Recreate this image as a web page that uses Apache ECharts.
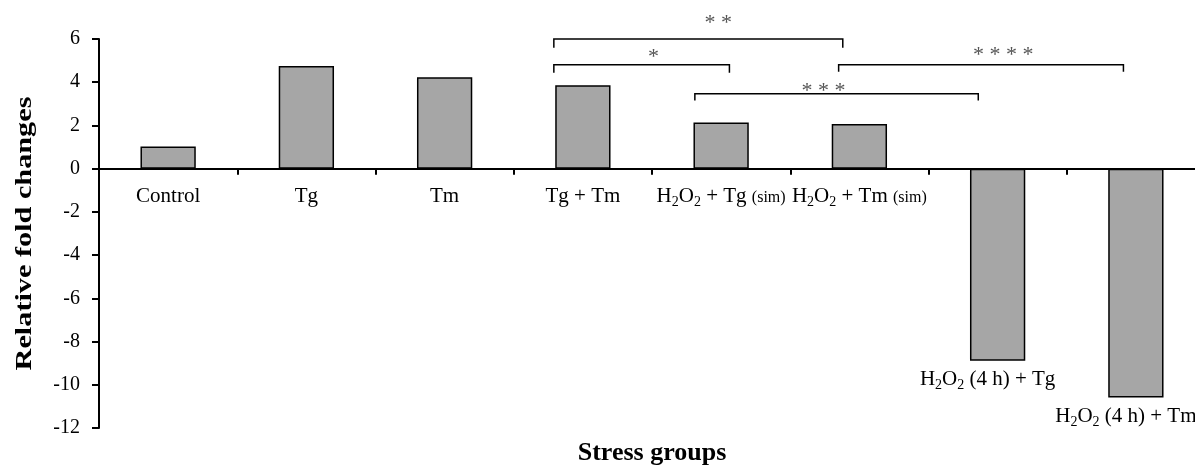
<!DOCTYPE html>
<html>
<head>
<meta charset="utf-8">
<script src="https://cdn.jsdelivr.net/npm/echarts@6/dist/echarts.min.js"></script>
<style>
html,body{margin:0;padding:0;background:#fff;}
#chart{width:1195px;height:468px;}
</style>
</head>
<body>
<div id="chart"></div>
<script>
// ---- data ----
const categories = ['Control', 'Tg', 'Tm', 'Tg + Tm', 'H2O2 + Tg (sim)', 'H2O2 + Tm (sim)', 'H2O2 (4 h) + Tg', 'H2O2 (4 h) + Tm'];
const foldChanges = [1.03, 4.75, 4.23, 3.86, 2.14, 2.07, -8.89, -10.59];
const labelBelowBar = [6, 7];           // category indices whose label sits under the bar
const yMin = -12, yMax = 6, yStep = 2;
const xAxisTitle = 'Stress groups';
const yAxisTitle = 'Relative fold changes';
// significance brackets (x in category units: category i spans i..i+1)
const bracketStart = [3.29, 3.29, 4.31, 5.35];
const bracketEnd   = [5.38, 4.56, 6.36, 7.41];
const bracketLevel = [6.00, 4.81, 3.47, 4.81];
const bracketFoot  = [5.60, 4.44, 3.15, 4.49];
const sigLabels = ['* *', '*', '* * *', '* * * *'];
const sigX = [4.48, 4.01, 5.24, 6.54];
const sigY = [6.94, 5.37, 3.80, 5.46];

const FONT = 'Liberation Serif';

function richName(name) {
  return name
    .replace(/H2O2/g, 'H{s|2}O{s|2}')
    .replace(/\(sim\)/g, '{m|(sim)}');
}
const richStyles = {
  s: { fontFamily: FONT, fontSize: 14, color: '#000', verticalAlign: 'bottom', padding: [0, 0, -3, 0] },
  m: { fontFamily: FONT, fontSize: 16, color: '#000', verticalAlign: 'bottom', padding: [0, 0, 1, 0] }
};

const barData = foldChanges.map((v, i) => {
  const item = { value: v };
  if (labelBelowBar.includes(i)) {
    item.label = {
      show: true, position: 'bottom', distance: 8, offset: [-10, 0],
      formatter: () => richName(categories[i]),
      fontFamily: FONT, fontSize: 21, color: '#000', rich: richStyles
    };
  }
  return item;
});

const bracketData = bracketStart.map((s, i) => [s, bracketEnd[i], bracketLevel[i], bracketFoot[i]]);
const sigData = sigLabels.map((t, i) => [sigX[i], sigY[i], t]);

// layout
const G = { left: 99, right: -10, top: 39, bottom: 40 };
const plotH = 468 - G.top - G.bottom;
const zeroY = G.top + plotH * (yMax - 0) / (yMax - yMin);

const chart = echarts.init(document.getElementById('chart'));
chart.setOption({
  animation: false,
  backgroundColor: '#fff',
  grid: [
    { left: G.left, right: G.right, top: G.top, bottom: G.bottom, containLabel: false, outerBoundsMode: 'none' },
    { left: G.left, right: G.right, top: G.top, height: zeroY - G.top, containLabel: false, outerBoundsMode: 'none' }
  ],
  xAxis: [{
    type: 'category', gridIndex: 0, data: categories,
    axisLine: { show: false }, axisTick: { show: false }, axisLabel: { show: false }, splitLine: { show: false }
  }, {
    type: 'value', gridIndex: 0, min: 0, max: categories.length, show: false
  }, {
    type: 'category', gridIndex: 1, data: categories, position: 'bottom',
    axisLine: { show: true, onZero: false, lineStyle: { color: '#000', width: 2 } },
    axisTick: { show: true, length: 6, lineStyle: { color: '#000', width: 2 } },
    axisLabel: {
      margin: 17, fontFamily: FONT, fontSize: 21, color: '#000', interval: 0,
      formatter: (v, i) => labelBelowBar.includes(i) ? '' : richName(v),
      rich: richStyles
    },
    splitLine: { show: false }
  }],
  yAxis: [{
    type: 'value', gridIndex: 0,
    min: yMin, max: yMax, interval: yStep,
    axisLine: { show: true, onZero: false, lineStyle: { color: '#000', width: 2 } },
    axisTick: { show: true, length: 7, lineStyle: { color: '#000', width: 2 } },
    axisLabel: { margin: 19, fontFamily: FONT, fontSize: 20, color: '#000', showMinLabel: true, showMaxLabel: true },
    splitLine: { show: false }
  }, {
    type: 'value', gridIndex: 1, min: 0, max: yMax, show: false
  }],
  graphic: [{
    type: 'text', x: 25, y: G.top + plotH / 2, rotation: Math.PI / 2, scaleX: 1.26,
    style: { text: yAxisTitle, font: 'bold 24px "Liberation Serif"', fill: '#000', align: 'center', verticalAlign: 'middle' }
  }, {
    type: 'text', x: G.left + (1195 - G.left - G.right) / 2, y: 453,
    style: { text: xAxisTitle, font: 'bold 26px "Liberation Serif"', fill: '#000', align: 'center', verticalAlign: 'middle' }
  }],
  series: [{
    type: 'bar',
    xAxisIndex: 0, yAxisIndex: 0,
    data: barData,
    barWidth: '40%',
    itemStyle: { color: '#a6a6a6', borderColor: '#000', borderWidth: 1.5 },
    label: { show: false }
  }, {
    type: 'custom',
    xAxisIndex: 1, yAxisIndex: 0,
    clip: false,
    data: bracketData,
    renderItem: (params, api) => {
      const x1 = api.value(0), x2 = api.value(1), yt = api.value(2), yf = api.value(3);
      return {
        type: 'polyline',
        shape: { points: [api.coord([x1, yf]), api.coord([x1, yt]), api.coord([x2, yt]), api.coord([x2, yf])] },
        style: { stroke: '#000', lineWidth: 1.5, fill: null }
      };
    }
  }, {
    type: 'custom',
    xAxisIndex: 1, yAxisIndex: 0,
    clip: false,
    data: sigData,
    renderItem: (params, api) => {
      const p = api.coord([api.value(0), api.value(1)]);
      return {
        type: 'text',
        x: p[0], y: p[1] + 5,
        style: {
          text: sigLabels[params.dataIndex],
          fill: '#555', font: '22px "Liberation Serif"',
          align: 'center', verticalAlign: 'middle'
        }
      };
    }
  }]
});
</script>
</body>
</html>
